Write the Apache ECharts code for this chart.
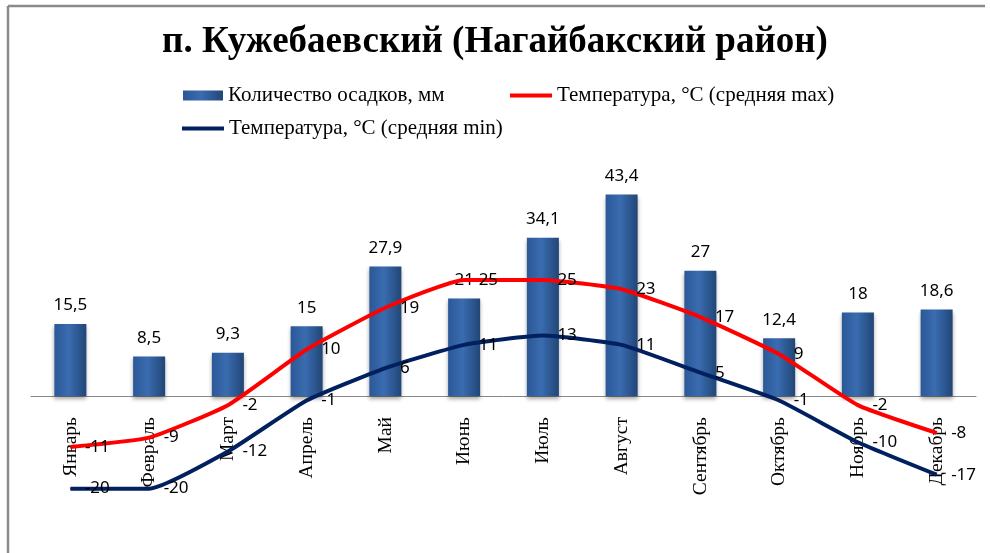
<!DOCTYPE html>
<html>
<head>
<meta charset="utf-8">
<script src="https://cdn.jsdelivr.net/npm/echarts@6/dist/echarts.min.js"></script>
<style>
html, body { margin: 0; padding: 0; background: #fff; }
#chart { width: 990px; height: 553px; }
</style>
</head>
<body>
<div id="chart"></div>
<script>
// данные
var months = ['Январь', 'Февраль', 'Март', 'Апрель', 'Май', 'Июнь', 'Июль', 'Август', 'Сентябрь', 'Октябрь', 'Ноябрь', 'Декабрь'];
var precip = [15.5, 8.5, 9.3, 15, 27.9, 21, 34.1, 43.4, 27, 12.4, 18, 18.6];
var tMax = [-11, -9, -2, 10, 19, 25, 25, 23, 17, 9, -2, -8];
var tMin = [-20, -20, -12, -1, 6, 11, 13, 11, 5, -1, -10, -17];

var nameP = 'Количество осадков, мм';
var nameMax = 'Температура, °C (средняя max)';
var nameMin = 'Температура, °C (средняя min)';

(function(){
var chart = echarts.init(document.getElementById('chart'));

var legendText = { fontFamily: 'Liberation Serif', fontSize: 21, color: '#000' };

var lineLabel = {
    show: true,
    position: 'right',
    distance: 14,
    fontFamily: 'Noto Sans',
    fontSize: 17,
    color: '#000'
};

option = {
    backgroundColor: '#fff',
    animation: false,
    title: {
        text: 'п. Кужебаевский (Нагайбакский район)',
        left: 'center',
        top: 19,
        textStyle: { fontFamily: 'Liberation Serif', fontWeight: 'bold', fontSize: 37, color: '#000' }
    },
    legend: [
        { data: [nameP], left: 183, top: 85, padding: 0, icon: 'rect', itemWidth: 40, itemHeight: 10, textStyle: legendText },
        { data: [nameMax], left: 510, top: 85, padding: 0, icon: 'rect', itemWidth: 42, itemHeight: 4, textStyle: legendText },
        { data: [nameMin], left: 182, top: 118, padding: 0, icon: 'rect', itemWidth: 42, itemHeight: 4, textStyle: legendText }
    ],
    graphic: [
        { type: 'line', shape: { x1: 8, y1: 6, x2: 985, y2: 6 }, style: { stroke: '#8a8a8a', lineWidth: 2.5 } },
        { type: 'line', shape: { x1: 8, y1: 6, x2: 8, y2: 553 }, style: { stroke: '#8a8a8a', lineWidth: 2.5 } }
    ],
    grid: {
        left: 31,
        right: 14,
        top: 164,
        bottom: 18,
        containLabel: false,
        outerBoundsMode: 'none'
    },
    xAxis: {
        type: 'category',
        data: months,
        axisLine: { onZero: true, lineStyle: { color: '#888', width: 1 } },
        axisTick: { show: false },
        axisLabel: {
            rotate: 90,
            margin: -118,   // подписи под нулевой линией
            interval: 0,
            fontFamily: 'Liberation Serif',
            fontSize: 19.5,
            color: '#000'
        }
    },
    yAxis: {
        type: 'value',
        min: -30,
        max: 50,
        show: false,
        splitLine: { show: false }
    },
    series: [
        {
            name: nameP,
            type: 'bar',
            barWidth: 32,
            data: precip,
            itemStyle: {
                color: new echarts.graphic.LinearGradient(0, 0, 1, 0, [
                    { offset: 0, color: '#2b5897' },
                    { offset: 0.45, color: '#3a6cb0' },
                    { offset: 1, color: '#214677' }
                ]),
                shadowBlur: 4,
                shadowColor: 'rgba(0,0,0,0.35)',
                shadowOffsetY: 3
            },
            label: {
                show: true,
                position: 'top',
                distance: 10,
                fontFamily: 'Noto Sans',
                fontSize: 17,
                color: '#000',
                formatter: function(p){ return String(p.value).replace('.', ','); }
            }
        },
        {
            name: nameMax,
            type: 'line',
            data: tMax,
            smooth: 0.15,
            symbol: 'circle',
            symbolSize: 1,
            showSymbol: true,
            lineStyle: { color: '#ff0000', width: 4 },
            itemStyle: { color: '#ff0000' },
            label: lineLabel
        },
        {
            name: nameMin,
            type: 'line',
            data: tMin,
            smooth: 0.15,
            symbol: 'circle',
            symbolSize: 1,
            showSymbol: true,
            lineStyle: { color: '#002060', width: 4 },
            itemStyle: { color: '#002060' },
            label: lineLabel
        }
    ]
};

chart.setOption(option);
})();
</script>
</body>
</html>
